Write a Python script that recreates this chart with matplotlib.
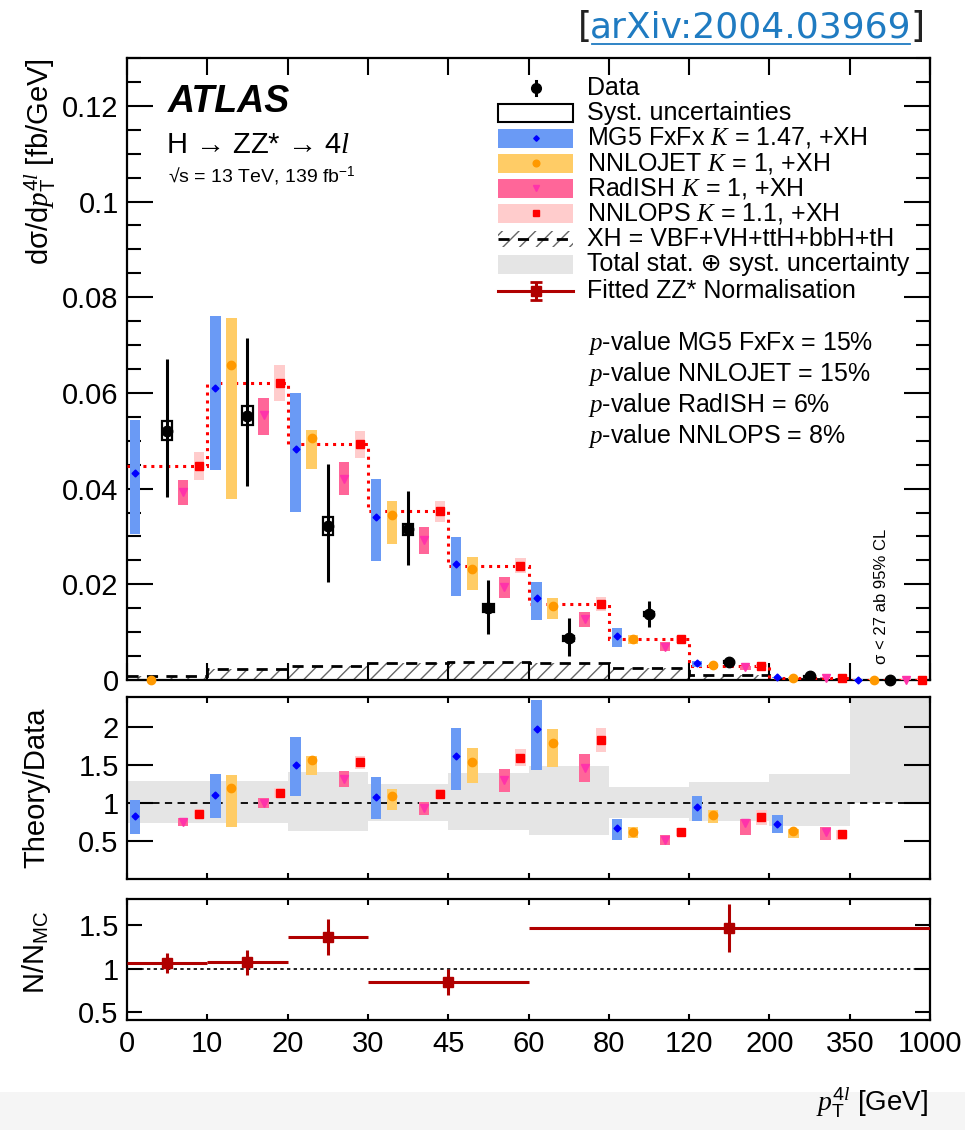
import numpy as np
import matplotlib
matplotlib.use('Agg')
import matplotlib.pyplot as plt
from matplotlib.patches import Rectangle

plt.rcParams['font.family'] = ['Liberation Sans', 'DejaVu Sans']
plt.rcParams['mathtext.fontset'] = 'custom'
plt.rcParams['mathtext.rm'] = 'Liberation Sans'
plt.rcParams['mathtext.it'] = 'Liberation Serif:italic'
plt.rcParams['mathtext.bf'] = 'Liberation Sans:bold'
plt.rcParams['mathtext.sf'] = 'Liberation Sans'
plt.rcParams['hatch.color'] = '#666666'
plt.rcParams['hatch.linewidth'] = 1.0

# ---------------- data ----------------
pt_edges = [0, 10, 20, 30, 45, 60, 80, 120, 200, 350, 1000]

data = np.array([0.0521, 0.0552, 0.0322, 0.0315, 0.0150, 0.0087, 0.0138, 0.0037, 0.0008, 0.0])
data_hi = np.array([0.0671, 0.0714, 0.0451, 0.0394, 0.0209, 0.0129, 0.0166, 0.0047, 0.0011, 0.0])
data_lo = np.array([0.0382, 0.0405, 0.0205, 0.0240, 0.0097, 0.0050, 0.0111, 0.0028, 0.00056, 0.0])
data_syst = np.array([0.0020, 0.0020, 0.0019, 0.0012, 0.0008, 0.0005, 0.0004, 0.0002, 0.0001, 0.0])

mg5 = np.array([0.0433, 0.0610, 0.0483, 0.0341, 0.0243, 0.0171, 0.0092, 0.0035, 0.00058, 0.0001])
mg5_lo = np.array([0.0305, 0.0439, 0.0351, 0.0249, 0.0176, 0.0125, 0.0070, 0.0028, 0.00048, 0.00008])
mg5_hi = np.array([0.0543, 0.0761, 0.0599, 0.0420, 0.0298, 0.0204, 0.0108, 0.00405, 0.00067, 0.00012])

nnlojet = np.array([0.0, 0.0659, 0.0505, 0.0345, 0.0231, 0.0155, 0.0086, 0.0031, 0.0005, 0.0001])
nnlojet_lo = np.array([0.0, 0.0379, 0.0440, 0.0285, 0.0189, 0.0128, 0.0075, 0.00274, 0.00043, 0.00008])
nnlojet_hi = np.array([0.0, 0.0757, 0.0522, 0.0374, 0.0258, 0.0171, 0.0095, 0.00337, 0.00053, 0.00012])

radish = np.array([0.0393, 0.0554, 0.0421, 0.0293, 0.0195, 0.0127, 0.0070, 0.0027, 0.00049, 0.0001])
radish_lo = np.array([0.0366, 0.0512, 0.0387, 0.0263, 0.0171, 0.0111, 0.0061, 0.00216, 0.00041, 0.00008])
radish_hi = np.array([0.0419, 0.0589, 0.0455, 0.0319, 0.0216, 0.0143, 0.0079, 0.00292, 0.00055, 0.00012])

nnlops = np.array([0.0448, 0.0621, 0.0493, 0.0353, 0.0239, 0.0159, 0.0085, 0.0030, 0.00047, 0.0001])
nnlops_lo = np.array([0.0418, 0.0584, 0.0465, 0.0331, 0.0223, 0.0145, 0.0078, 0.00263, 0.00041, 0.00008])
nnlops_hi = np.array([0.0476, 0.0658, 0.0521, 0.0374, 0.0256, 0.0173, 0.0092, 0.00333, 0.00051, 0.00012])

xh = np.array([0.0009, 0.0024, 0.0030, 0.0036, 0.0038, 0.0035, 0.0025, 0.0010, 0.0003, 0.0])

nmc_lo_edge = [0, 10, 20, 30, 60]
nmc_hi_edge = [10, 20, 30, 60, 1000]
nmc_val = np.array([1.066, 1.072, 1.364, 0.847, 1.467])
nmc_err = np.array([0.115, 0.145, 0.21, 0.145, 0.275])

pvalues = [("MG5 FxFx", 15), ("NNLOJET", 15), ("RadISH", 6), ("NNLOPS", 8)]

# ---------------- styles ----------------
C_MG5, M_MG5 = '#6A9AF5', 'blue'
C_NNLOJET, M_NNLOJET = '#FFCC66', '#FF9900'
C_RADISH, M_RADISH = '#FF6699', '#FF33AA'
C_NNLOPS, M_NNLOPS = '#FFCCCC', 'red'
C_BAND = '#E5E5E5'
C_ZZ = '#B00000'

W, H = 965, 1130
fig = plt.figure(figsize=(W / 100, H / 100), dpi=100)


def frect(l, t, r, b):
    return [l / W, 1 - b / H, (r - l) / W, (b - t) / H]


ax = fig.add_axes(frect(127, 58, 930, 680))
axr = fig.add_axes(frect(127, 697, 930, 879))
axn = fig.add_axes(frect(127, 899, 930, 1020))

nb = len(pt_edges) - 1
idx = np.arange(nb)
edges_idx = np.arange(nb + 1)
BW = 0.13
offs = {'mg5': 0.1, 'nnlojet': 0.3, 'data': 0.5, 'radish': 0.7, 'nnlops': 0.9}

series = [
    ('mg5', mg5, mg5_lo, mg5_hi, C_MG5, M_MG5, 'D', 3.5),
    ('nnlojet', nnlojet, nnlojet_lo, nnlojet_hi, C_NNLOJET, M_NNLOJET, 'o', 6),
    ('radish', radish, radish_lo, radish_hi, C_RADISH, M_RADISH, 'v', 6),
    ('nnlops', nnlops, nnlops_lo, nnlops_hi, C_NNLOPS, M_NNLOPS, 's', 5.5),
]

# ---------- main panel ----------
ax.bar(idx + 0.5, xh, width=1.0, facecolor='none', edgecolor='#666666', hatch='//', linewidth=0, zorder=1)
ax.stairs(xh, edges_idx, baseline=None, color='black', linestyle=(0, (4, 3)), linewidth=2, zorder=2)
ax.stairs(nnlops, edges_idx, baseline=None, color='red', linestyle=(0, (1, 1.6)), linewidth=2.2, zorder=3)

for name, c, lo, hi, bc, mc, mk, ms in series:
    x = idx + offs[name]
    ax.bar(x, hi - lo, bottom=lo, width=BW, color=bc, linewidth=0, zorder=4)
    ax.plot(x, c, ls='none', marker=mk, color=mc, ms=ms, mec=mc, zorder=5, clip_on=False)

xd = idx + offs['data']
has = data > 0
ax.bar(xd[has], 2 * data_syst[has], bottom=data[has] - data_syst[has], width=BW,
       facecolor='none', edgecolor='black', linewidth=1.6, zorder=6)
ax.errorbar(xd[has], data[has], yerr=[data[has] - data_lo[has], data_hi[has] - data[has]],
            fmt='o', color='black', ms=7.5, elinewidth=2.2, capsize=0, zorder=7)
ax.plot(xd[~has], data[~has], 'o', color='black', ms=7.5, zorder=7, clip_on=False)

ax.set_xlim(0, nb)
ax.set_ylim(0, 0.13)
ax.set_yticks([0, 0.02, 0.04, 0.06, 0.08, 0.1, 0.12])
ax.set_yticklabels(['0', '0.02', '0.04', '0.06', '0.08', '0.1', '0.12'])
ax.set_yticks(np.arange(0, 0.1301, 0.005), minor=True)
ax.set_xticks(edges_idx)
ax.set_xticklabels([])

ax.text(9.4, 0.0175, '\u03c3 < 27 ab 95% CL', rotation=90, fontsize=12,
        ha='center', va='center')

# ---------- ratio panel ----------
good = data > 0
band_lo = np.where(good, data_lo / np.where(good, data, 1), 1.0)
band_hi = np.where(good, data_hi / np.where(good, data, 1), 10.0)
axr.bar(idx + 0.5, band_hi - band_lo, bottom=band_lo, width=1.0, color=C_BAND, linewidth=0, zorder=1)
axr.axhline(1, color='black', linestyle=(0, (4, 3)), linewidth=1.3, zorder=2)
for name, c, lo, hi, bc, mc, mk, ms in series:
    ok = good & (c > 0)
    x = idx[ok] + offs[name]
    d = data[ok]
    axr.bar(x, (hi[ok] - lo[ok]) / d, bottom=lo[ok] / d, width=BW, color=bc, linewidth=0, zorder=4)
    axr.plot(x, c[ok] / d, ls='none', marker=mk, color=mc, ms=ms, mec=mc, zorder=5)
axr.set_xlim(0, nb)
axr.set_ylim(0, 2.39)
axr.set_yticks([0.5, 1, 1.5, 2])
axr.set_yticklabels(['0.5', '1', '1.5', '2'])
axr.set_xticks(edges_idx)
axr.set_xticklabels([])

# ---------- N/N_MC panel ----------
to_idx = lambda v: np.interp(v, pt_edges, edges_idx)
nlo = to_idx(nmc_lo_edge)
nhi = to_idx(nmc_hi_edge)
nx = 0.5 * (nlo + nhi)
axn.axhline(1, color='black', linestyle=(0, (2, 2)), linewidth=1.2, zorder=1)
axn.errorbar(nx, nmc_val, xerr=[nx - nlo, nhi - nx], yerr=nmc_err, fmt='s', color=C_ZZ,
             ms=7, elinewidth=2.2, capsize=0, zorder=3)
axn.set_xlim(0, nb)
axn.set_ylim(0.41, 1.80)
axn.set_yticks([0.5, 1, 1.5])
axn.set_yticklabels(['0.5', '1', '1.5'])
axn.set_xticks(edges_idx)
axn.set_xticklabels([str(e) for e in pt_edges])

for a in (ax, axr, axn):
    for s in a.spines.values():
        s.set_linewidth(1.6)
    a.tick_params(axis='both', which='both', direction='in', top=True, right=True,
                  labelsize=21, width=1.5)
    a.tick_params(axis='y', which='major', pad=6)
    a.tick_params(axis='x', which='major', pad=7)
ax.tick_params(axis='y', which='major', length=19)
ax.tick_params(axis='y', which='minor', length=10)
ax.tick_params(axis='x', which='major', length=12)
axr.tick_params(axis='y', which='major', length=19)
axr.tick_params(axis='x', which='major', length=4.5)
axn.tick_params(axis='y', which='major', length=11)
axn.tick_params(axis='x', which='major', length=4.5)

# axis labels
fig.text(40 / W, 1 - 58 / H, 'd\u03c3/d' + r'$p_{\mathrm{T}}^{4l}$ [fb/GeV]', rotation=90,
         fontsize=21, ha='center', va='top')
fig.text(36 / W, 1 - 788 / H, 'Theory/Data', rotation=90, fontsize=21, ha='center', va='center')
fig.text(36 / W, 1 - 952 / H, r'N/N$_{\mathrm{MC}}$', rotation=90, fontsize=21, ha='center', va='center')
fig.text(928 / W, 1 - 1112 / H, r'$p_{\mathrm{T}}^{4l}$ [GeV]', fontsize=20, ha='right', va='baseline')

# bottom gray strip
fig.patches.append(Rectangle((0, 0), 1, (H - 1092) / H, transform=fig.transFigure,
                             facecolor='#F5F5F5', edgecolor='none', zorder=-5))

# ---------- annotations ----------
lax = fig.add_axes([0, 0, 1, 1])
lax.set_xlim(0, W)
lax.set_ylim(H, 0)
lax.axis('off')
lax.patch.set_visible(False)

lax.text(168, 112, 'ATLAS', fontsize=27, fontweight='bold', fontstyle='italic', va='baseline')
lax.text(166, 153, 'H \u2192 ZZ* \u2192 4' + r'$l$', fontsize=21, va='baseline')
lax.text(168, 183, '\u221As = 13 TeV, 139 fb' + r'$^{-1}$', fontsize=14, va='baseline')

rows = [88, 113, 138, 163, 188, 213, 239, 264, 291]
labels = ['Data', 'Syst. uncertainties',
          r'MG5 FxFx $K$ = 1.47, +XH', r'NNLOJET $K$ = 1, +XH',
          r'RadISH $K$ = 1, +XH', r'NNLOPS $K$ = 1.1, +XH',
          'XH = VBF+VH+ttH+bbH+tH', 'Total stat. \u2295 syst. uncertainty',
          'Fitted ZZ* Normalisation']
hx0, hx1 = 498, 573
hxc = 0.5 * (hx0 + hx1)
for y, lab in zip(rows, labels):
    lax.text(587, y, lab, fontsize=18, va='center', ha='left')
# data
lax.plot([hxc, hxc], [rows[0] - 7, rows[0] + 7], color='black', lw=2.2)
lax.plot(hxc, rows[0], 'o', color='black', ms=7)
# syst
lax.add_patch(Rectangle((hx0, rows[1] - 9), hx1 - hx0, 18, facecolor='none', edgecolor='black', lw=1.5))
for y, (name, c, lo, hi, bc, mc, mk, ms) in zip(rows[2:6], series):
    lax.add_patch(Rectangle((hx0, y - 9.5), hx1 - hx0, 19, facecolor=bc, edgecolor='none'))
    lax.plot(hxc, y, marker=mk, color=mc, ms=ms * 0.8)
# XH
lax.add_patch(Rectangle((hx0, rows[6] - 8), hx1 - hx0, 16, facecolor='none', edgecolor='#666666',
                        hatch='//', lw=0))
lax.plot([hx0, hx1], [rows[6], rows[6]], color='black', linestyle=(0, (4, 3)), lw=2)
# total band
lax.add_patch(Rectangle((hx0, rows[7] - 9.5), hx1 - hx0, 19, facecolor=C_BAND, edgecolor='none'))
# fitted ZZ
lax.plot([hx0, hx1], [rows[8], rows[8]], color=C_ZZ, lw=2.2)
lax.errorbar(hxc, rows[8], yerr=9, fmt='s', color=C_ZZ, ms=7, elinewidth=2.2, capsize=4, capthick=2)

for i, (nm, pv) in enumerate(pvalues):
    lax.text(588, 343 + 31 * i, r'$p$-value %s = %d%%' % (nm, pv), fontsize=18, va='center')

# arXiv reference
AFONT = ['DejaVu Sans']
t_mid = lax.text(590, 37, 'arXiv:2004.03969', fontsize=26, color='#1F7BC1', va='baseline',
                 family=AFONT)
fig.canvas.draw()
bb = t_mid.get_window_extent(renderer=fig.canvas.get_renderer())
x_end = bb.x1
lax.text(592, 37, '[', fontsize=26, color='#222222', va='baseline', ha='right', family=AFONT)
lax.text(x_end - 1, 37, ']', fontsize=26, color='#222222', va='baseline', ha='left', family=AFONT)
lax.plot([592, x_end - 2], [44, 44], color='#1F7BC1', lw=1.3)

fig.savefig('out.png', dpi=100)
